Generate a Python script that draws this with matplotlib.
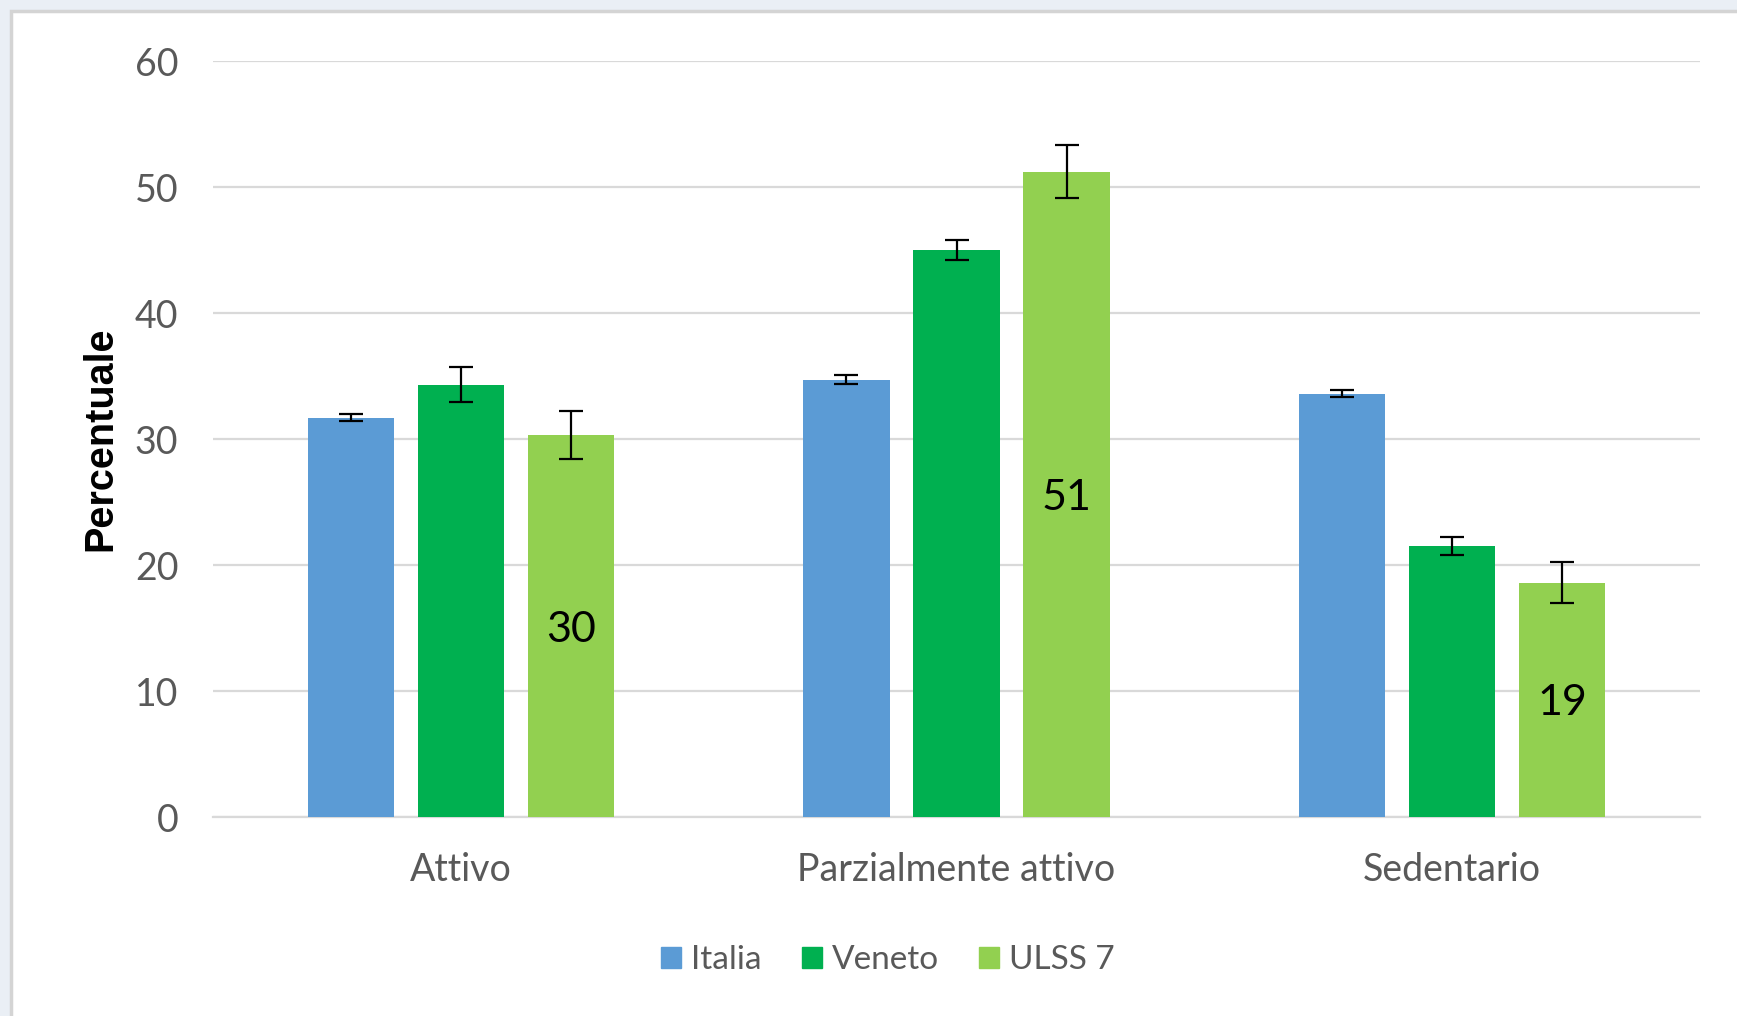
import matplotlib.pyplot as plt
import matplotlib.patches as mpatches
import numpy as np

# data
categories = ["Attivo", "Parzialmente attivo", "Sedentario"]
series = ["Italia", "Veneto", "ULSS 7"]
italia = [31.7, 34.7, 33.6]
veneto = [34.3, 45.0, 21.5]
ulss7 = [30.3, 51.2, 18.6]
italia_err = [0.3, 0.35, 0.3]
veneto_err = [1.4, 0.8, 0.7]
ulss7_err = [1.9, 2.1, 1.6]
ulss7_labels = ["30", "51", "19"]

colors = ["#5b9bd5", "#00b050", "#92d050"]

W, H = 1737, 1016
fig = plt.figure(figsize=(W / 100, H / 100), dpi=100)
fig.patch.set_facecolor("#eaeff5")

# white chart area with grey border, as in the Excel screenshot
fig.patches.append(mpatches.Rectangle((11 / W, -0.05), 1.1, (1016 - 11) / H + 0.05,
                                      transform=fig.transFigure, facecolor="white",
                                      edgecolor="#d4d4d4", linewidth=2.5, zorder=-5))

ax = fig.add_axes([213 / W, 1 - 817 / H, (1700 - 213) / W, (817 - 61) / H])
ax.set_facecolor("white")

x = np.arange(len(categories))
step = 0.222
width = 0.174
err_kw = dict(ecolor="black", elinewidth=1.6, capsize=8.3, capthick=1.6)

values = [italia, veneto, ulss7]
errors = [italia_err, veneto_err, ulss7_err]
bars = []
for i, (vals, errs) in enumerate(zip(values, errors)):
    b = ax.bar(x + (i - 1) * step, vals, width, yerr=errs, color=colors[i],
               label=series[i], error_kw=err_kw, zorder=3)
    bars.append(b)

# labels inside the ULSS 7 bars
for rect, lab in zip(bars[2], ulss7_labels):
    ax.text(rect.get_x() + rect.get_width() / 2, rect.get_height() / 2, lab,
            ha="center", va="center_baseline", fontsize=31, family="Lato",
            color="black", zorder=4)

ax.set_xlim(-0.5, 2.5)
ax.set_ylim(0, 60)
ax.set_yticks(range(0, 61, 10))
ax.yaxis.grid(True, color="#d9d9d9", linewidth=1.6, zorder=0)
ax.set_axisbelow(True)
for s in ["top", "right", "left"]:
    ax.spines[s].set_visible(False)
ax.spines["bottom"].set_color("#d9d9d9")
ax.spines["bottom"].set_linewidth(1.6)
ax.tick_params(axis="both", length=0, colors="#595959", labelsize=27)
ax.tick_params(axis="y", pad=25)
ax.tick_params(axis="x", pad=25)
ax.set_xticks(x)
ax.set_xticklabels(categories)
for t in ax.get_xticklabels() + ax.get_yticklabels():
    t.set_family("Lato")

ax.set_ylabel("Percentuale", fontsize=28.5, fontweight="bold", family="Liberation Sans",
              color="black", labelpad=11)

handles = [mpatches.Patch(color=c) for c in colors]
fig.legend(handles, series, loc="center", bbox_to_anchor=(888 / W, 1 - 960 / H),
           ncol=3, frameon=False, prop={"family": "Lato", "size": 24},
           labelcolor="#595959", handlelength=0.6, handleheight=0.6,
           handletextpad=0.3, columnspacing=1.2)

fig.savefig("out.png", dpi=100, facecolor=fig.get_facecolor())
